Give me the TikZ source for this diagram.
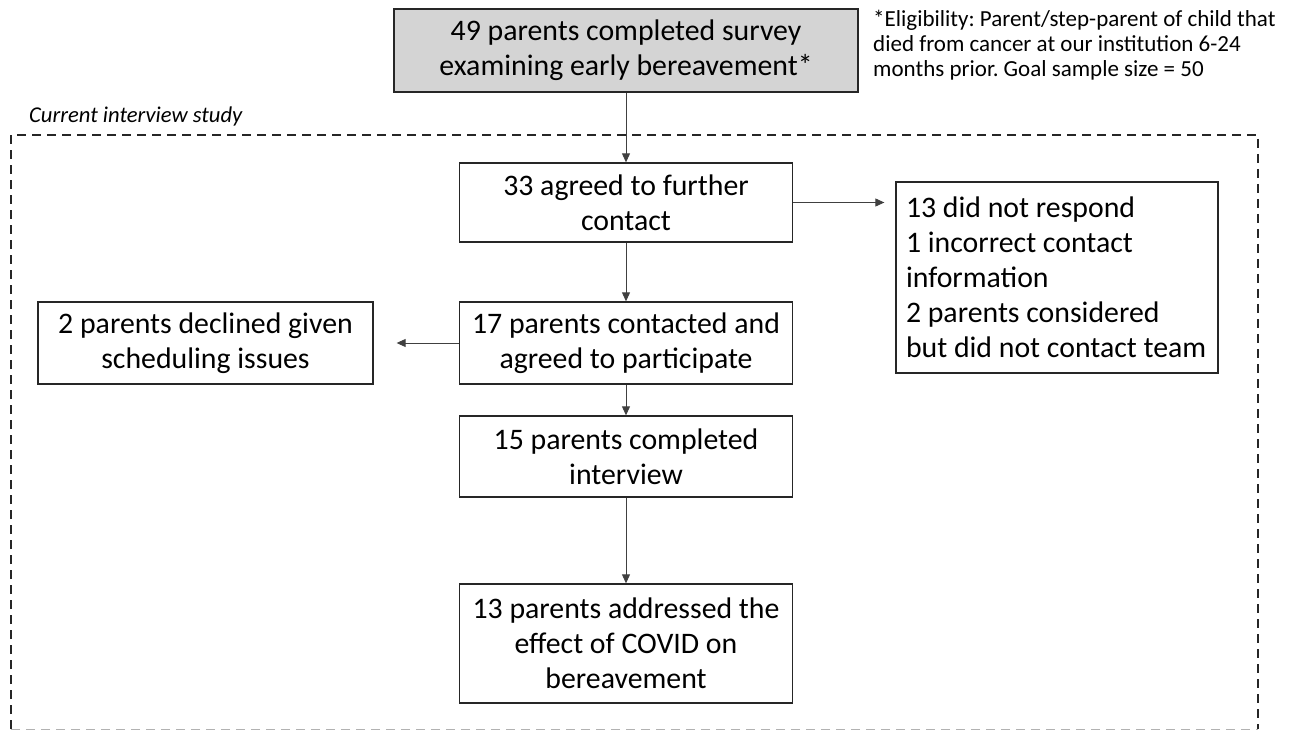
\documentclass[tikz,border=0pt]{standalone}
\usepackage{fontspec}
\setmainfont{Carlito}
\usetikzlibrary{arrows.meta}
\begin{document}
\frenchspacing
\begin{tikzpicture}[x=1pt,y=-1pt,
  box/.style={draw=black!85,line width=1.3pt,inner sep=0pt,align=center,
    font=\fontsize{29.8}{35}\selectfont},
  arr/.style={draw=black!75,line width=0.9pt,-{Triangle[length=9pt,width=8pt]}},
  note/.style={inner sep=0pt,font=\fontsize{23}{25}\selectfont,align=flush left}]
\useasboundingbox (0,0) rectangle (1291,730);
\draw[black!85,line width=1.3pt,dash pattern=on 9pt off 6pt] (11,729) -- (11,135) -- (1258,135) -- (1258,729);
\draw[black!30,line width=1pt,dash pattern=on 9pt off 6pt] (11,729) -- (1258,729);
\node[anchor=west,inner sep=0pt,font=\fontsize{22.6}{26}\selectfont\itshape] (lbl) at (29,116) {Current interview study};
\node[box,fill=black!17,minimum width=464pt,minimum height=83pt] (b1) at (626,50.5) {49 parents completed survey\\examining early bereavement*};
\node[note,anchor=north west] (nt) at (873,10) {*Eligibility: Parent/step-parent of child that\\died from cancer at our institution 6-24\\months prior. Goal sample size = 50};
\node[box,minimum width=333pt,minimum height=79pt] (b2) at (626,202.5) {33 agreed to further\\contact};
\node[box,minimum width=322pt,minimum height=191pt,align=flush left,text width=302pt] (r1) at (1057,277.5) {13 did not respond\\1 incorrect contact\\information\\2 parents considered\\but did not contact team};
\node[box,minimum width=333pt,minimum height=82pt] (b3) at (626,343) {17 parents contacted and\\agreed to participate};
\node[box,minimum width=335pt,minimum height=82pt] (l1) at (205.5,343) {2 parents declined given\\scheduling issues};
\node[box,minimum width=333pt,minimum height=81pt] (b4) at (626,456.5) {15 parents completed\\interview};
\node[box,minimum width=333pt,minimum height=119pt] (b5) at (626,643.5) {13 parents addressed the\\effect of COVID on\\bereavement};
\draw[arr] (b1.south) -- (b2.north);
\draw[arr,shorten >=11pt] (b2.east) -- (b2.east -| r1.west);
\draw[arr] (b2.south) -- (b3.north);
\draw[arr,shorten >=23pt] (b3.west) -- (l1.east);
\draw[arr] (b3.south) -- (b4.north);
\draw[arr] (b4.south) -- (b5.north);
\end{tikzpicture}
\end{document}
